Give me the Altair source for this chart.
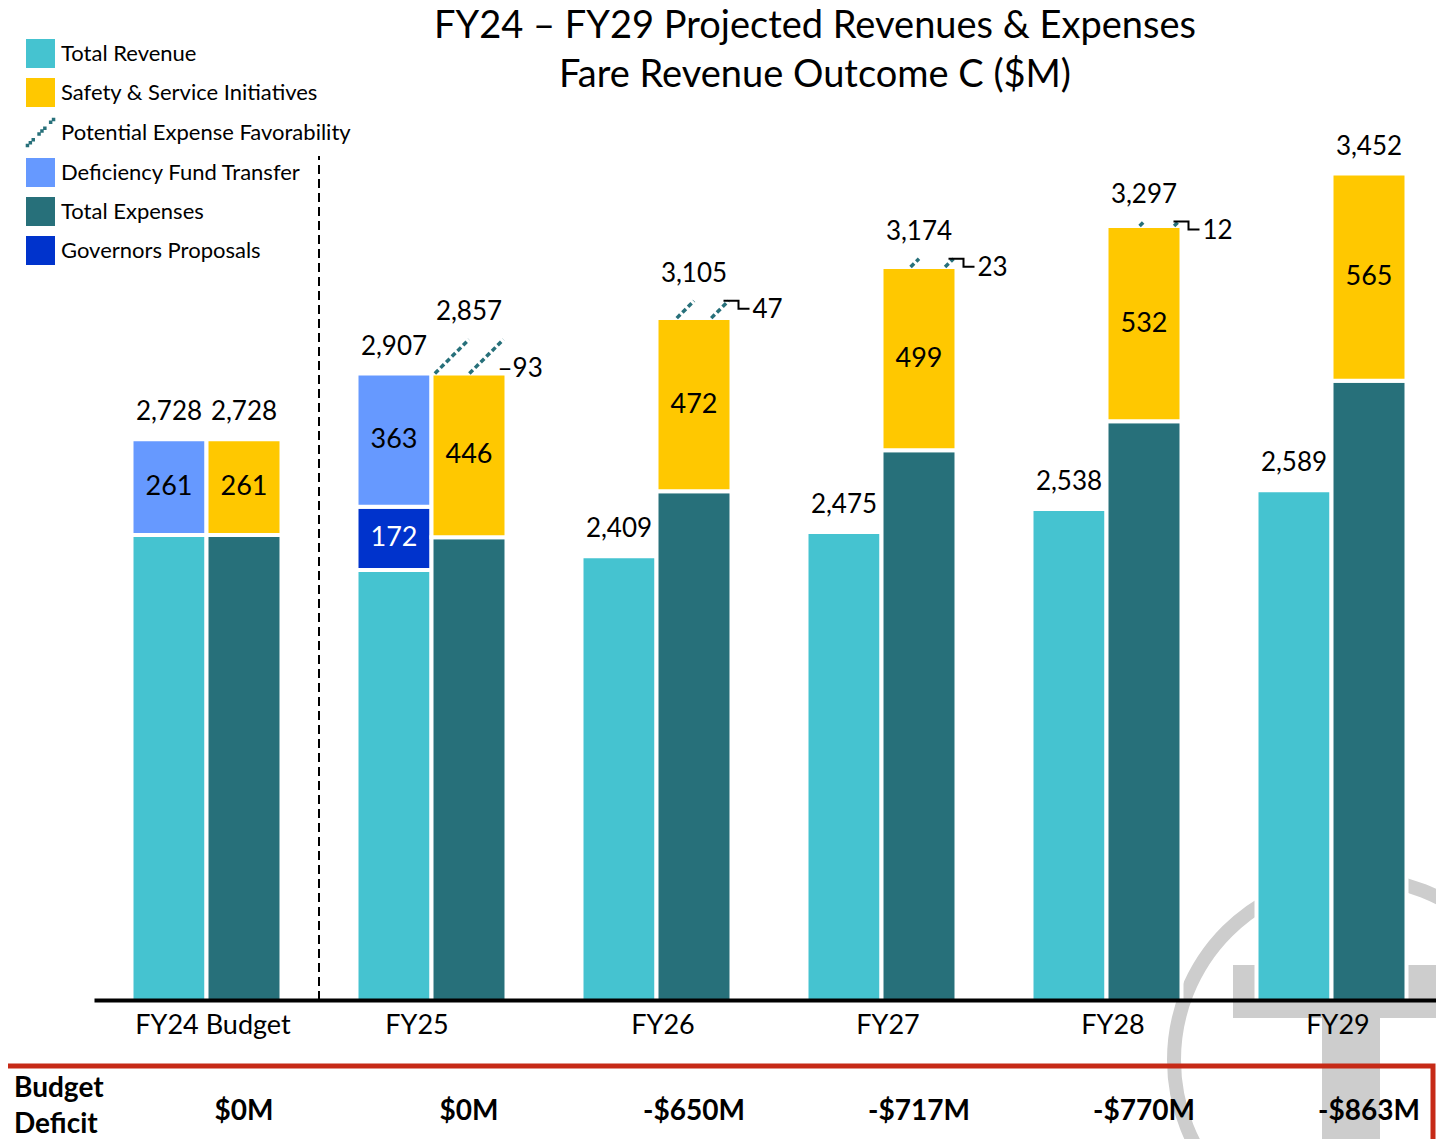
import json
import altair as alt
import pandas as pd

# ---------------- data ----------------
years = ["FY24 Budget", "FY25", "FY26", "FY27", "FY28", "FY29"]
revenue_total = [2728, 2907, 2409, 2475, 2538, 2589]
governors_proposals = [0, 172, 0, 0, 0, 0]
deficiency_fund_transfer = [261, 363, 0, 0, 0, 0]
total_expenses = [2467, 2461, 2586, 2698, 2777, 2887]
safety_service = [261, 446, 472, 499, 532, 565]
expense_favorability = [0, 93, 47, 23, 12, 0]
expense_total_label = [2728, 2857, 3105, 3174, 3297, 3452]
budget_deficit = ["$0M", "$0M", "-$650M", "-$717M", "-$770M", "-$863M"]
bracket_years = ["FY26", "FY27", "FY28"]

segments = ["Total Revenue", "Safety & Service Initiatives", "Potential Expense Favorability",
            "Deficiency Fund Transfer", "Total Expenses", "Governors Proposals"]
segment_colors = ["#45C3D0", "#FFC800", "#27707A", "#6699FF", "#27707A", "#0033CC"]
title_line1 = "FY24 \u2013 FY29 Projected Revenues & Expenses"
title_line2 = "Fare Revenue Outcome C ($M)"
row_header = "Budget\nDeficit"

# ---------------- layout ----------------
PX_X = 225.0
W, H = 1342, 992
X_DOM = [-0.5, -0.5 + W / PX_X]
Y_MIN, Y_MAX = 1200, 3903
PX_Y = H / (Y_MAX - Y_MIN)
BW = 75 / PX_X
EDGE = 2 / PX_X
FONT = "Lato"
TEAL = "#27707A"
GREY = "#CDCDCD"
DIVIDER_TOP = 3500

xs = alt.Scale(domain=X_DOM, nice=False, zero=False)
ys = alt.Scale(domain=[Y_MIN, Y_MAX], nice=False, zero=False)

x_axis = alt.Axis(values=list(range(len(years))), labelExpr=json.dumps(years) + "[datum.value]",
                  title=None, grid=False, ticks=False, tickSize=0, domainColor="black",
                  domainWidth=4, labelFont=FONT, labelFontSize=27, labelColor="black",
                  labelPadding=12,
                  labelOffset={"condition": {"test": "datum.value === 1", "value": -15}, "value": 6},
                  labelFlush=False, labelOverlap=False, labelBound=False, zindex=2)


def X(f):
    return alt.X(f, type="quantitative", scale=xs, axis=x_axis)


def Y(f):
    return alt.Y(f, type="quantitative", scale=ys, axis=None)


# ---------------- tables ----------------
bars, seg_labels, totals, hatch, conn, fav_labels, deficit = [], [], [], [], [], [], []
for i, yr in enumerate(years):
    rev_base = revenue_total[i] - governors_proposals[i] - deficiency_fund_transfer[i]
    stacks = [
        (i - BW, i, [("Total Revenue", rev_base),
                     ("Governors Proposals", governors_proposals[i]),
                     ("Deficiency Fund Transfer", deficiency_fund_transfer[i])]),
        (i, i + BW, [("Total Expenses", total_expenses[i]),
                     ("Safety & Service Initiatives", safety_service[i])]),
    ]
    for x0, x1, segs in stacks:
        cum = 0
        for k, (seg, v) in enumerate(segs):
            if v <= 0:
                continue
            bars.append(dict(year=yr, segment=seg, x0=x0, x1=x1, y0=cum, y1=cum + v))
            if k > 0:
                seg_labels.append(dict(segment=seg, x=(x0 + x1) / 2, y=cum + v / 2, text=str(v)))
            cum += v
    rev_x = i - BW / 2
    exp_x = i + BW / 2
    totals.append(dict(x=rev_x, y=revenue_total[i], text=f"{revenue_total[i]:,}"))
    safety_top = total_expenses[i] + safety_service[i]
    fav = expense_favorability[i]
    top = safety_top + fav
    totals.append(dict(x=exp_x, y=top, text=f"{expense_total_label[i]:,}"))
    deficit.append(dict(x=exp_x, text=budget_deficit[i]))
    if fav > 0:
        for j, frac in enumerate([0.5, 0.96]):
            xt = i + BW * frac
            xb = xt - fav * PX_Y / PX_X
            hatch.append(dict(key=f"{yr}-{j}", x=xb, y=safety_top, x2=xt, y2=top))
        xr = i + BW - EDGE
        if yr in bracket_years:
            pts = [(xr - 6 / PX_X, top), (xr + 9 / PX_X, top),
                   (xr + 9 / PX_X, top - 8 / PX_Y), (xr + 20 / PX_X, top - 8 / PX_Y)]
            for o, (px, py) in enumerate(pts):
                conn.append(dict(year=yr, o=o, x=px, y=py))
            fav_labels.append(dict(x=xr + 23 / PX_X, y=top - 9 / PX_Y, text=str(fav)))
        else:
            fav_labels.append(dict(x=xr - 7 / PX_X, y=safety_top + 5 / PX_Y, text=f"\u2013{fav}"))

bars_df = pd.DataFrame(bars)
seg_df = pd.DataFrame(seg_labels)
tot_df = pd.DataFrame(totals)
hatch_df = pd.DataFrame(hatch)
conn_df = pd.DataFrame(conn)
fav_df = pd.DataFrame(fav_labels)
def_df = pd.DataFrame(deficit)
divider_df = pd.DataFrame([dict(x=0.5, y0=Y_MIN, y1=DIVIDER_TOP)])
one = pd.DataFrame([{"k": 1}])

# legend symbol for the hatch entry: a stair of small squares
parts = []
for k in range(10):
    if k in (3, 7):
        continue
    c = -0.9 + 0.2 * k
    h = 0.12
    parts.append(f"M{c - h:.2f},{-c - h:.2f}L{c + h:.2f},{-c - h:.2f}L{c + h:.2f},{-c + h:.2f}L{c - h:.2f},{-c + h:.2f}Z")
HATCH_PATH = "".join(parts)
shape_range = ["square", "square", HATCH_PATH, "square", "square", "square"]

color_scale = alt.Scale(domain=segments, range=segment_colors)
legend = alt.Legend(orient="none", legendX=-68, legendY=31, title=None, symbolType="square",
                    symbolSize=841, labelFontSize=22, labelFont=FONT, labelColor="black",
                    labelOffset=6, rowPadding=10, labelLimit=500, padding=0,
                    symbolStrokeWidth=0, symbolOpacity=1)

# ---------------- layers ----------------
ring = alt.Chart(one).mark_point(shape="circle", filled=False, opacity=1, strokeWidth=14,
                                 color=GREY, size=132496).encode(
    x=alt.value(1262), y=alt.value(1052))
t_bar = alt.Chart(one).mark_rect(color=GREY).encode(
    x=alt.value(1139), x2=alt.value(1360), y=alt.value(957), y2=alt.value(1010))
t_stem = alt.Chart(one).mark_rect(color=GREY).encode(
    x=alt.value(1228), x2=alt.value(1286), y=alt.value(1000), y2=alt.value(1200))

red_box = alt.Chart(one).mark_rect(fillOpacity=0, stroke="#C62A17", strokeWidth=5).encode(
    x=alt.value(-100), x2=alt.value(1339), y=alt.value(1058), y2=alt.value(1300))

bar_layer = alt.Chart(bars_df).mark_rect(stroke="white", strokeWidth=4, clip=True).encode(
    x=X("x0"), x2="x1:Q",
    y=Y("y0"), y2="y1:Q",
    color=alt.Color("segment:N", scale=color_scale, legend=legend),
)

divider = alt.Chart(divider_df).mark_rule(color="black", strokeWidth=2, strokeDash=[9, 5]).encode(
    x=X("x"), y=Y("y0"), y2="y1:Q")

hatch_layer = alt.Chart(hatch_df).mark_rule(color=TEAL, strokeWidth=3.5, strokeDash=[5, 3]).encode(
    x=X("x"), y=Y("y"), x2="x2:Q", y2="y2:Q", detail="key:N")

conn_layer = alt.Chart(conn_df).mark_line(color="black", strokeWidth=2).encode(
    x=X("x"), y=Y("y"), detail="year:N", order="o:Q")

seg_text = alt.Chart(seg_df).mark_text(font=FONT, fontSize=27, align="center", baseline="middle").encode(
    x=X("x"), y=Y("y"), text="text:N",
    color=alt.condition(alt.datum.segment == "Governors Proposals", alt.value("white"), alt.value("black")))

tot_text = alt.Chart(tot_df).mark_text(font=FONT, fontSize=26, align="center", baseline="middle",
                                       dy=-27, color="black").encode(
    x=X("x"), y=Y("y"), text="text:N")

fav_text = alt.Chart(fav_df).mark_text(font=FONT, fontSize=26, align="left", baseline="middle",
                                       color="black").encode(
    x=X("x"), y=Y("y"), text="text:N")

def_text = alt.Chart(def_df).mark_text(font=FONT, fontSize=28, fontWeight="bold", align="center",
                                       baseline="middle", color="black").encode(
    x=X("x"), y=alt.value(1104), text="text:N")

header = alt.Chart(one).mark_text(font=FONT, fontSize=28, fontWeight="bold", align="left",
                                  baseline="middle", lineBreak="\n", lineHeight=36,
                                  color="black", text=row_header).encode(
    x=alt.value(-80), y=alt.value(1081))

title1 = alt.Chart(one).mark_text(font=FONT, fontSize=38, align="center", baseline="middle",
                                  color="black", text=title_line1).encode(
    x=alt.value(721), y=alt.value(19))
title2 = alt.Chart(one).mark_text(font=FONT, fontSize=38, align="center", baseline="middle",
                                  color="black", text=title_line2).encode(
    x=alt.value(721), y=alt.value(68))

legend_df = pd.DataFrame({"segment": pd.Series([], dtype="object")})
legend_layer = alt.Chart(legend_df).mark_point(filled=True, opacity=1).encode(
    color=alt.Color("segment:N", scale=color_scale, legend=legend),
    shape=alt.Shape("segment:N", scale=alt.Scale(domain=segments, range=shape_range), legend=legend),
)

chart = alt.layer(
    ring, t_bar, t_stem, red_box, bar_layer, divider, hatch_layer, conn_layer,
    seg_text, tot_text, fav_text, def_text, header, title1, title2, legend_layer,
).properties(
    width=W, height=H,
    padding={"left": 86, "top": 0, "right": 0, "bottom": 139},
    autosize=alt.AutoSizeParams(type="none"),
    background="white",
).configure(font=FONT).configure_view(strokeWidth=0, stroke="transparent")

chart.save("out.html", embed_options={"renderer": "svg", "actions": False})
